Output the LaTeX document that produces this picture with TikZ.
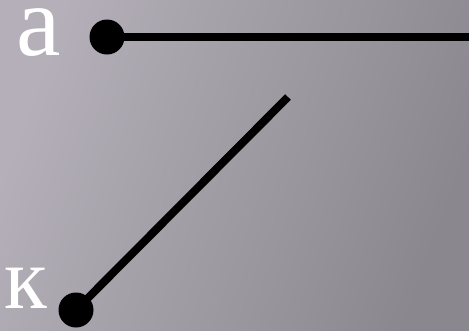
\documentclass[tikz,border=0pt]{standalone}
\usepackage{fontspec}
\newfontfamily\letterfont{Liberation Serif}
\begin{document}
\begin{tikzpicture}[x=1pt,y=-1pt,
  dotnode/.style={circle,fill=black,inner sep=0pt,minimum size=35pt},
  seg/.style={line width=8pt,black},
  letter/.style={anchor=base west,inner sep=0pt,text=white,text height=0.5em,text depth=0pt}]
\useasboundingbox (0,0) rectangle (469,330);
\shade[left color={rgb,255:red,180;green,175;blue,184},right color={rgb,255:red,138;green,136;blue,142},shading angle=70] (0,0) rectangle (469,330);
\node[letter,font=\letterfont\fontsize{100}{100}\selectfont] (la) at (16,55) {a};
\node[letter,font=\letterfont\fontsize{88}{88}\selectfont] (lk) at (4,308) {к};
\node[dotnode] (d1) at (107,37) {};
\node[dotnode] (d2) at (76,310) {};
\coordinate (e1) at (469,37);
\coordinate (e2) at (288,97);
\draw[seg] (d1.center) -- (e1);
\draw[seg] (d2.center) -- (e2);
\end{tikzpicture}
\end{document}
